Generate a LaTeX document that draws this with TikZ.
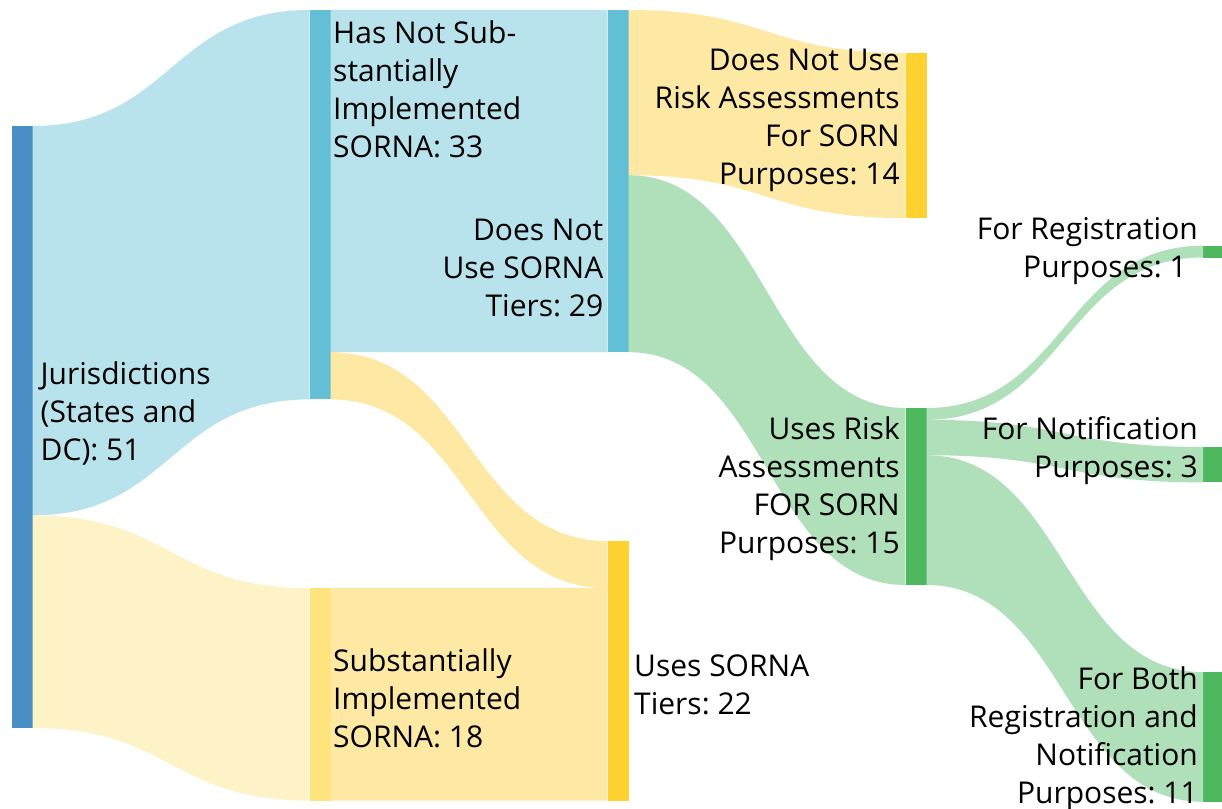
\documentclass[tikz,border=0pt]{standalone}
\usepackage{fontspec}
\setmainfont{Open Sans}
\usetikzlibrary{calc}
\frenchspacing

\definecolor{jurblue}{RGB}{74,142,198}
\definecolor{nodecyan}{RGB}{98,191,214}
\definecolor{bandblue}{RGB}{185,227,236}
\definecolor{bandpale}{RGB}{254,243,198}
\definecolor{nodepale}{RGB}{255,228,125}
\definecolor{bandyellow}{RGB}{253,233,163}
\definecolor{nodegold}{RGB}{253,209,48}
\definecolor{bandgreen}{RGB}{176,224,185}
\definecolor{nodegreen}{RGB}{77,184,94}

\tikzset{
  bar/.style={draw=none, minimum width=21, inner sep=0, outer sep=0, anchor=north west},
  lbl/.style={inner sep=0, font=\fontsize{30}{38}\selectfont}
}

\begin{document}
\begin{tikzpicture}[x=1pt,y=1pt,yscale=-1,xscale=1]
    \useasboundingbox (0,0) rectangle (1222,808);

    %Sankey Nodes
    \node [bar, fill=jurblue, minimum height=602] (juris) at (11.5,126) {};
    \node [bar, fill=nodecyan, minimum height=389.4] (hasnot) at (309.5,10) {};
    \node [bar, fill=nodepale, minimum height=212.4] (subst) at (309.5,588.2) {};
    \node [bar, fill=nodecyan, minimum height=342.2] (dnutiers) at (607.5,10) {};
    \node [bar, fill=nodegold, minimum height=259.6] (usestiers) at (607.5,541) {};
    \node [bar, fill=nodegold, minimum height=165.2] (dnurisk) at (905.5,53) {};
    \node [bar, fill=nodegreen, minimum height=177] (usesrisk) at (905.5,408) {};
    \node [bar, fill=nodegreen, minimum height=11.8] (forreg) at (1203,245.7) {};
    \node [bar, fill=nodegreen, minimum height=35.4] (fornotif) at (1203,447) {};
    \node [bar, fill=nodegreen, minimum height=129.8] (forboth) at (1203,672) {};

    %Band juris -> hasnot
    \fill [bandblue] (juris.north east) .. controls +(138.5,0) and +(-138.5,0) .. (hasnot.north west) -- (hasnot.south west) .. controls +(-138.5,0) and +(138.5,0) .. ($(juris.north east)+(0,389.4)$) -- cycle;
    %Band juris -> subst
    \fill [bandpale] ($(juris.north east)+(0,389.4)$) .. controls +(138.5,0) and +(-138.5,0) .. (subst.north west) -- (subst.south west) .. controls +(-138.5,0) and +(138.5,0) .. (juris.south east) -- cycle;
    %Band hasnot -> dnutiers
    \fill [bandblue] (hasnot.north east) .. controls +(138.5,0) and +(-138.5,0) .. (dnutiers.north west) -- (dnutiers.south west) .. controls +(-138.5,0) and +(138.5,0) .. ($(hasnot.north east)+(0,342.2)$) -- cycle;
    %Band hasnot -> usestiers
    \fill [bandyellow] ($(hasnot.north east)+(0,342.2)$) .. controls +(138.5,0) and +(-138.5,0) .. (usestiers.north west) -- ($(usestiers.north west)+(0,47.2)$) .. controls +(-138.5,0) and +(138.5,0) .. (hasnot.south east) -- cycle;
    %Band subst -> usestiers
    \fill [bandyellow] (subst.north east) .. controls +(138.5,0) and +(-138.5,0) .. ($(usestiers.north west)+(0,47.2)$) -- (usestiers.south west) .. controls +(-138.5,0) and +(138.5,0) .. (subst.south east) -- cycle;
    %Band dnutiers -> dnurisk
    \fill [bandyellow] (dnutiers.north east) .. controls +(138.5,0) and +(-138.5,0) .. (dnurisk.north west) -- (dnurisk.south west) .. controls +(-138.5,0) and +(138.5,0) .. ($(dnutiers.north east)+(0,165.2)$) -- cycle;
    %Band dnutiers -> usesrisk
    \fill [bandgreen] ($(dnutiers.north east)+(0,165.2)$) .. controls +(138.5,0) and +(-138.5,0) .. (usesrisk.north west) -- (usesrisk.south west) .. controls +(-138.5,0) and +(138.5,0) .. (dnutiers.south east) -- cycle;
    %Band usesrisk -> forreg
    \fill [bandgreen] (usesrisk.north east) .. controls +(138.5,0) and +(-138.5,0) .. (forreg.north west) -- (forreg.south west) .. controls +(-138.5,0) and +(138.5,0) .. ($(usesrisk.north east)+(0,11.8)$) -- cycle;
    %Band usesrisk -> fornotif
    \fill [bandgreen] ($(usesrisk.north east)+(0,11.8)$) .. controls +(138.5,0) and +(-138.5,0) .. (fornotif.north west) -- (fornotif.south west) .. controls +(-138.5,0) and +(138.5,0) .. ($(usesrisk.north east)+(0,47.2)$) -- cycle;
    %Band usesrisk -> forboth
    \fill [bandgreen] ($(usesrisk.north east)+(0,47.2)$) .. controls +(138.5,0) and +(-138.5,0) .. (forboth.north west) -- (forboth.south west) .. controls +(-138.5,0) and +(138.5,0) .. (usesrisk.south east) -- cycle;

    % Text Node (anchored at last baseline)
    \node [lbl, anchor=base west, align=left] (jurislbl) at (40.5,460.5) {Jurisdictions\\(States and\\DC): 51};
    % Text Node
    \node [lbl, anchor=base west, align=left] (hasnotlbl) at (333,157.3) {Has Not Sub-\\stantially\\Implemented\\SORNA: 33};
    % Text Node
    \node [lbl, anchor=base west, align=left] (substlbl) at (333,747) {Substantially\\Implemented\\SORNA: 18};
    % Text Node
    \node [lbl, anchor=base east, align=right] (dnutierslbl) at (603.5,316) {Does Not\\Use SORNA\\Tiers: 29};
    % Text Node
    \node [lbl, anchor=base west, align=left] (usestierslbl) at (634,714) {Uses SORNA\\Tiers: 22};
    % Text Node
    \node [lbl, anchor=base east, align=right] (dnurisklbl) at (900,184) {Does Not Use\\Risk Assessments\\For SORN\\Purposes: 14};
    % Text Node
    \node [lbl, anchor=base east, align=right] (usesrisklbl) at (900,553) {Uses Risk\\Assessments\\FOR SORN\\Purposes: 15};
    % Text Node
    \node [lbl, anchor=base east, align=right] (forreglbl) at (1198,277.5) {For Registration\\Purposes: 1\hspace*{11pt}};
    % Text Node
    \node [lbl, anchor=base east, align=right] (fornotiflbl) at (1198,477) {For Notification\\Purposes: 3};
    % Text Node
    \node [lbl, anchor=base east, align=right] (forbothlbl) at (1198,803) {For Both\\Registration and\\Notification\\Purposes: 11};

\end{tikzpicture}
\end{document}
